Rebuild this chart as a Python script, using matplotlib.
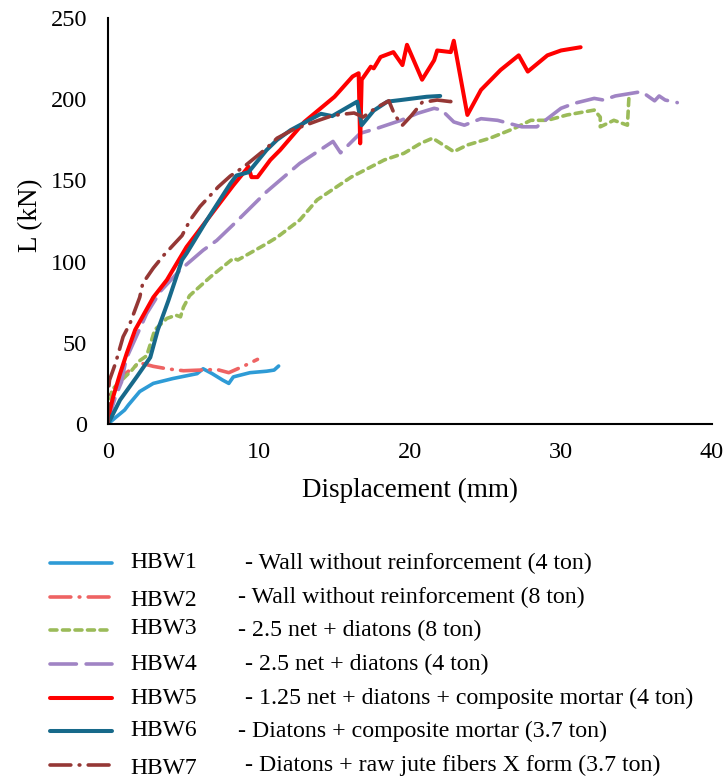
import matplotlib
matplotlib.use("Agg")
import matplotlib.pyplot as plt
from matplotlib.lines import Line2D

plt.rcParams['font.family'] = ['Liberation Serif', 'DejaVu Serif']
plt.rcParams['lines.scale_dashes'] = False

# load (kN) vs displacement (mm)
hbw1_x = [0, 0.5, 1.1, 1.35, 2.1, 3.0, 4.3, 5.9, 6.3, 6.9, 7.6, 8.0, 8.3, 9.4, 10.5, 11.0, 11.3]
hbw1_y = [0, 4, 8.6, 11.7, 20, 25, 28, 31, 34, 31, 27, 25, 29, 31.6, 32.5, 33.2, 35.7]

hbw2_x = [0, 0.3, 1.0, 2.1, 3.0, 3.9, 5.0, 6.1, 7.2, 8.0, 9.0, 9.9]
hbw2_y = [0, 20, 30, 37.7, 35.5, 34, 32.8, 33.2, 33.6, 31.6, 35.7, 39.8]

hbw3_x = [0, 0.25, 1.57, 2.1, 2.56, 3.1, 3.9, 4.5, 4.8, 5.0, 5.4, 6.8, 8.3, 8.6, 10.5, 11.2, 12.7,
          13.85, 16.1, 18.3, 19.6, 20.7, 21.5, 22.9, 23.8, 25.3, 26.9, 28.0, 29.1, 30.4, 32.2, 32.6,
          32.6, 33.5, 34.4, 34.5]
hbw3_y = [0, 21, 33, 39, 42, 58, 65, 67, 66, 72, 79, 90.7, 102, 101, 111, 115, 125.6,
          138, 152, 162.6, 166.7, 172.8, 176, 167.7, 171.8, 176, 182, 187, 187, 190.3, 193.3, 189,
          183, 187, 184, 201.5]

hbw4_x = [0, 0.3, 0.5, 0.9, 1.2, 2.56, 3.5, 4.8, 6.3, 7.2, 8.5, 10.5, 12.7, 14.9, 15.4, 16.7, 17.8,
          19.4, 20.5, 21.6, 22.1, 22.9, 23.6, 24.7, 25.8, 27.4, 28.4, 30.0, 30.9, 32.2, 32.8, 33.6,
          35.3, 35.5, 36.2, 36.5, 36.9, 37.7]
hbw4_y = [0, 11, 17, 26, 40, 68, 82, 95, 107, 113, 124.6, 143, 160.5, 174, 167, 179, 182,
          187, 191.3, 194.4, 193.3, 186, 184, 188, 187, 183, 183, 194.4, 197.5, 200.5, 199.5, 202,
          204.6, 203.6, 199, 202, 199.5, 197.9]

hbw5_x = [0, 0.13, 0.35, 0.8, 1.24, 1.8, 3.0, 3.9, 5.2, 7.4, 8.3, 9.3, 9.5, 9.9, 10.75, 11.4, 13.0,
          15.0, 16.2, 16.6, 16.7, 16.8, 17.4, 17.6, 18.05, 18.9, 19.5, 19.8, 20.8, 21.6, 21.8, 22.7,
          22.9, 23.8, 24.7, 26.0, 27.2, 27.8, 29.1, 30.0, 31.3]
hbw5_y = [0, 8.6, 17, 31, 43.5, 58, 78, 88.7, 109, 136, 147, 158.4, 152, 152, 162.6, 168.7, 186,
          201.5, 214, 216, 172.8, 212, 220, 219, 226, 229, 221, 233.5, 212, 224, 230, 229,
          236, 190.3, 205.7, 218, 227, 217, 227, 230, 232]

hbw6_x = [0, 0.8, 1.9, 2.8, 3.3, 4.0, 4.9, 5.2, 6.55, 8.1, 8.5, 9.3, 10.5, 11.2, 12.1, 14.1, 14.85,
          16.5, 16.8, 17.6, 18.5, 19.4, 21.1, 22.0]
hbw6_y = [0, 14.8, 29, 41, 58, 76, 101, 105, 125.6, 148, 153, 155, 168.7, 175, 181, 191, 189.6,
          198.5, 184, 193, 198.5, 199.5, 201.5, 202]

hbw7_x = [0, 0, 0.1, 0.5, 1.0, 1.46, 2.1, 2.3, 3.0, 3.7, 4.9, 5.44, 6.1, 7.3, 8.1, 9.0, 10.5, 11.2,
          12.2, 13.95, 14.9, 15.8, 16.3, 16.9, 17.7, 18.6, 19.0, 19.5, 20.1, 20.8, 21.8, 22.7, 22.95]
hbw7_y = [0, 18, 27, 37.5, 53.7, 62, 78, 86.6, 96, 104, 116, 125.6, 134, 146, 152.7, 158.4, 169.8, 176,
          181, 187, 190, 191, 191.5, 189, 194.4, 199, 190, 184, 190, 198, 199.5, 198.5, 202.6]

names = ['HBW1', 'HBW2', 'HBW3', 'HBW4', 'HBW5', 'HBW6', 'HBW7']
descriptions = ['- Wall without reinforcement (4 ton)',
                '- Wall without reinforcement (8 ton)',
                '- 2.5 net + diatons (8 ton)',
                '- 2.5 net + diatons (4 ton)',
                '- 1.25 net + diatons + composite mortar (4 ton)',
                '- Diatons + composite mortar (3.7 ton)',
                '- Diatons + raw jute fibers X form (3.7 ton)']

xs = [hbw1_x, hbw2_x, hbw3_x, hbw4_x, hbw5_x, hbw6_x, hbw7_x]
ys = [hbw1_y, hbw2_y, hbw3_y, hbw4_y, hbw5_y, hbw6_y, hbw7_y]

styles = [
    dict(color='#2E9BD6', lw=2.6, ls='-'),
    dict(color='#EE6363', lw=2.6, ls=(0, (15, 6, 0.5, 6)), dash_capstyle='round'),
    dict(color='#9BBB59', lw=2.6, ls=(0, (5, 4)), dash_capstyle='round'),
    dict(color='#A084C4', lw=2.6, ls=(0, (19, 7)), dash_capstyle='round'),
    dict(color='#FF0000', lw=2.9, ls='-'),
    dict(color='#17698A', lw=2.9, ls='-'),
    dict(color='#953735', lw=2.6, ls=(0, (15, 6, 0.5, 6)), dash_capstyle='round'),
]

W, H = 728, 777
fig = plt.figure(figsize=(W / 100, H / 100), dpi=100)
ax = fig.add_axes([108 / W, 1 - 424 / H, 604 / W, 406 / H])

for x, y, st in zip(xs, ys, styles):
    ax.plot(x, y, solid_capstyle='round', solid_joinstyle='round', **st)

ax.set_xlim(0, 40)
ax.set_ylim(0, 250)
ax.set_xticks([0, 10, 20, 30, 40])
ax.set_yticks([0, 50, 100, 150, 200, 250])
ax.tick_params(length=0, labelsize=17.5)
ax.tick_params(axis='x', pad=13)
ax.tick_params(axis='y', pad=15)
for s in ['top', 'right']:
    ax.spines[s].set_visible(False)
for s in ['left', 'bottom']:
    ax.spines[s].set_linewidth(1.5)
ax.set_xlabel('Displacement (mm)', fontsize=19.5)
ax.set_ylabel('L (kN)', fontsize=19.5)
ax.xaxis.set_label_coords(0.5, -0.132)
ax.yaxis.set_label_coords(-0.108, 0.515)

# legend drawn below the axes, in pixel rows like the original
line_y = [563, 597, 630, 664, 698, 731, 765]
name_dy = [0, 3, -1, 0, 0, 0, 3]
desc_x = [245, 238, 238, 245, 245, 238, 245]
for i in range(len(names)):
    yy = 1 - line_y[i] / H
    fig.add_artist(Line2D([50 / W, 112 / W], [yy, yy], transform=fig.transFigure,
                          solid_capstyle='round', **styles[i]))
    fig.text(130 / W, 1 - (line_y[i] + name_dy[i]) / H, names[i], fontsize=17, va='center')
    fig.text(desc_x[i] / W, yy, descriptions[i], fontsize=17.2, va='center')

fig.savefig('out.png', dpi=100)
